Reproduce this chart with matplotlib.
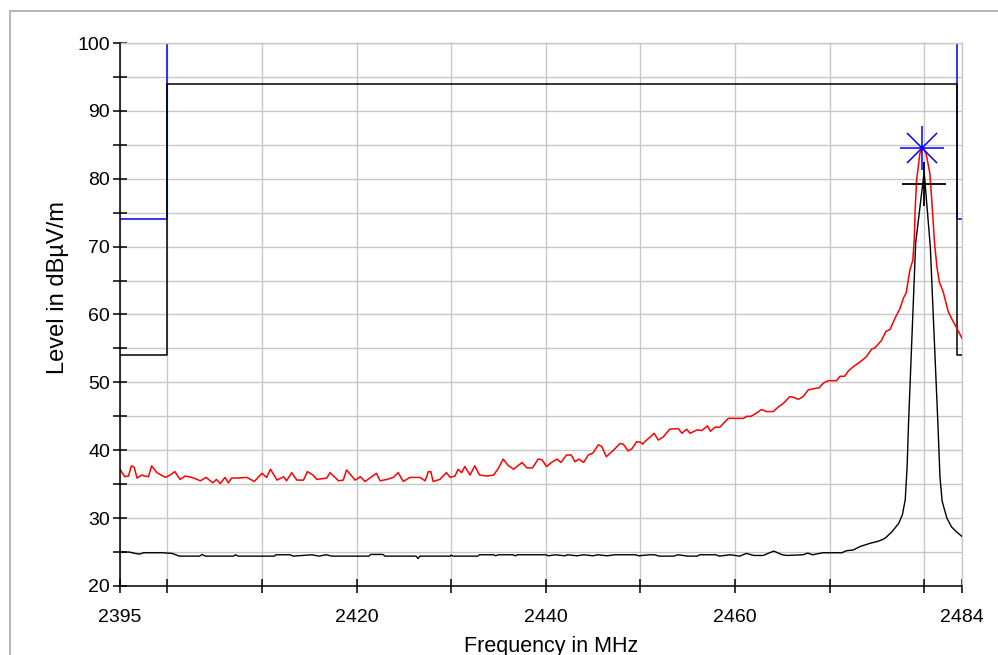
import matplotlib
matplotlib.use("Agg")
import matplotlib.pyplot as plt
from matplotlib.patches import Rectangle

plt.rcParams["font.family"] = ["Liberation Sans", "DejaVu Sans"]

# Peak detector trace (MHz, dBµV/m)
peak_freq = [
    2395.0, 2395.5, 2395.9, 2396.2, 2396.5, 2396.8, 2397.3, 2397.6, 2398.0, 2398.35,
    2398.9, 2399.8, 2400.3, 2400.8, 2401.1, 2401.35, 2401.9, 2402.6, 2403.5, 2404.1,
    2404.8, 2405.2, 2405.6, 2406.1, 2406.45, 2406.8, 2407.3, 2408.4, 2409.2, 2410.0,
    2410.5, 2410.9, 2411.6, 2412.3, 2412.6, 2413.15, 2413.7, 2414.4, 2414.8, 2415.4,
    2415.8, 2416.85, 2417.2, 2418.1, 2418.6, 2418.95, 2419.85, 2420.4, 2420.9, 2421.4,
    2422.1, 2422.5, 2423.2, 2423.9, 2424.4, 2424.95, 2425.65, 2426.7, 2427.25, 2427.6,
    2427.85, 2428.1, 2428.8, 2429.5, 2429.9, 2430.4, 2430.75, 2431.1, 2431.45, 2432.0,
    2432.5, 2433.0, 2433.8, 2434.5, 2435.0, 2435.5, 2436.0, 2436.6, 2437.5, 2438.0,
    2438.6, 2439.2, 2439.6, 2440.1, 2440.6, 2441.2, 2441.6, 2442.2, 2442.7, 2443.1,
    2443.5, 2444.0, 2444.5, 2445.0, 2445.55, 2445.9, 2446.4, 2447.15, 2447.85, 2448.2,
    2448.7, 2449.1, 2449.6, 2450.0, 2450.25, 2450.5, 2451.0, 2451.45, 2451.9, 2452.45,
    2453.1, 2454.0, 2454.4, 2454.9, 2455.25, 2456.0, 2456.5, 2457.1, 2457.4, 2457.9,
    2458.4, 2459.3, 2460.9, 2461.25, 2461.7, 2462.3, 2462.8, 2463.35, 2464.05, 2464.6,
    2465.1, 2465.8, 2466.2, 2466.7, 2467.2, 2467.75, 2468.45, 2468.9, 2469.35, 2469.9,
    2470.75, 2471.1, 2471.6, 2472.0, 2472.5, 2473.2, 2473.4, 2473.9, 2474.45, 2474.8,
    2475.5, 2475.95, 2476.4, 2476.9, 2477.45, 2477.8, 2478.1, 2478.5, 2478.8, 2478.95,
    2479.05, 2479.2, 2479.55, 2479.85, 2480.2, 2480.6, 2480.8, 2481.1, 2481.35, 2481.6,
    2482.0, 2482.55, 2482.9, 2483.4, 2484.0,
]
peak_level = [
    37.2, 36.1, 36.2, 37.7, 37.5, 35.9, 36.35, 36.2, 36.1, 37.7,
    36.7, 36.0, 36.35, 36.85, 36.2, 35.7, 36.2, 36.0, 35.5, 36.0,
    35.2, 35.7, 35.1, 36.0, 35.2, 35.9, 35.9, 36.0, 35.4, 36.6,
    36.0, 37.2, 35.6, 36.1, 35.5, 36.7, 35.6, 35.6, 36.85, 36.35,
    35.7, 35.9, 36.7, 35.5, 35.6, 37.1, 35.6, 36.1, 35.4, 35.9,
    36.6, 35.5, 35.7, 36.0, 36.7, 35.4, 36.0, 36.0, 35.5, 36.85,
    36.85, 35.4, 35.7, 36.7, 36.0, 36.2, 37.2, 36.7, 37.6, 36.35,
    37.7, 36.35, 36.2, 36.35, 37.35, 38.7, 37.8, 37.2, 38.2, 37.4,
    37.4, 38.7, 38.6, 37.6, 38.2, 38.7, 38.2, 39.3, 39.3, 38.3,
    38.7, 38.2, 39.3, 39.6, 40.8, 40.6, 39.05, 40.0, 41.0, 40.9,
    39.9, 40.2, 41.25, 41.2, 40.9, 41.3, 41.9, 42.5, 41.5, 42.0,
    43.1, 43.2, 42.5, 43.1, 42.5, 43.0, 42.9, 43.6, 42.8, 43.4,
    43.4, 44.7, 44.7, 45.0, 45.0, 45.5, 46.0, 45.7, 45.7, 46.4,
    46.9, 47.9, 47.8, 47.5, 47.9, 48.9, 49.1, 49.2, 49.9, 50.25,
    50.25, 50.9, 50.9, 51.7, 52.3, 53.0, 53.2, 53.8, 54.9, 55.1,
    56.2, 57.5, 57.8, 59.4, 60.9, 62.4, 63.2, 66.6, 68.0, 71.0,
    75.5, 79.8, 83.75, 84.7, 83.75, 80.8, 76.9, 70.5, 67.0, 64.8,
    63.4, 60.4, 59.4, 58.1, 56.5,
]

# Average detector trace (MHz, dBµV/m)
avg_freq = [
    2395.0, 2396.0, 2396.6, 2397.1, 2397.5, 2398.5, 2399.5, 2400.5, 2401.3, 2403.4,
    2403.7, 2404.0, 2407.0, 2407.2, 2407.5, 2411.3, 2411.5, 2413.0, 2413.3, 2415.3,
    2416.0, 2416.8, 2417.4, 2421.3, 2421.5, 2422.8, 2423.0, 2426.3, 2426.5, 2426.7,
    2429.9, 2430.0, 2430.2, 2432.8, 2433.0, 2434.5, 2434.7, 2435.0, 2436.5, 2436.8,
    2437.0, 2440.0, 2440.3, 2441.0, 2442.0, 2442.3, 2443.3, 2444.0, 2445.0, 2445.5,
    2446.5, 2447.3, 2449.5, 2449.8, 2451.0, 2451.5, 2452.0, 2453.5, 2454.0, 2455.0,
    2456.0, 2456.3, 2458.0, 2458.3, 2459.5, 2460.5, 2461.2, 2462.0, 2463.0, 2464.1,
    2465.0, 2465.5, 2467.2, 2467.7, 2468.2, 2469.3, 2471.3, 2471.8, 2472.5, 2473.2,
    2474.3, 2475.15, 2475.7, 2476.0, 2476.6, 2477.3, 2477.7, 2478.0, 2478.2, 2478.35,
    2479.1, 2480.0, 2480.65, 2481.45, 2481.67, 2481.9, 2482.4, 2482.9, 2483.4, 2484.0,
]
avg_level = [
    25.0, 25.0, 24.8, 24.7, 24.9, 24.9, 24.9, 24.8, 24.4, 24.4,
    24.65, 24.4, 24.4, 24.6, 24.4, 24.4, 24.6, 24.6, 24.4, 24.6,
    24.4, 24.6, 24.4, 24.4, 24.65, 24.65, 24.4, 24.4, 24.05, 24.4,
    24.4, 24.55, 24.4, 24.4, 24.6, 24.6, 24.45, 24.6, 24.6, 24.45,
    24.6, 24.6, 24.45, 24.6, 24.45, 24.6, 24.45, 24.6, 24.45, 24.6,
    24.45, 24.6, 24.6, 24.45, 24.6, 24.6, 24.4, 24.4, 24.6, 24.4,
    24.4, 24.6, 24.6, 24.4, 24.6, 24.4, 24.8, 24.5, 24.5, 25.15,
    24.6, 24.5, 24.6, 24.85, 24.6, 24.9, 24.9, 25.2, 25.3, 25.8,
    26.3, 26.6, 26.9, 27.2, 28.0, 29.2, 30.5, 32.7, 37.6, 44.0,
    70.5, 81.0, 70.0, 44.0, 36.1, 32.5, 30.0, 28.7, 28.0, 27.3,
]

# Limit lines: restricted band outside 2400 - 2483.5 MHz
limit_freq = [2395.0, 2400.0, 2400.0, 2483.5, 2483.5, 2484.0]
peak_limit = [74.0, 74.0, 114.0, 114.0, 74.0, 74.0]
avg_limit = [54.0, 54.0, 94.0, 94.0, 54.0, 54.0]

# Final measurement markers
peak_marker = (2479.8, 84.5)
avg_marker = (2480.0, 79.2)

x_ticks = [2395, 2400, 2410, 2420, 2430, 2440, 2450, 2460, 2470, 2480, 2484]
x_labeled = [2395, 2420, 2440, 2460, 2484]
y_major = list(range(20, 101, 10))
y_minor = list(range(25, 100, 10))

W, H = 998, 655
GRID = "#c8c8c8"


def main() -> None:
    fig = plt.figure(figsize=(W / 100, H / 100), dpi=100)
    ax = fig.add_axes([120 / W, 1 - 586 / H, 842 / W, 543 / H])

    # light frame around the whole chart
    fig.add_artist(Rectangle((10 / W, -0.1), 1.2, 1.1 - 11 / H,
                             transform=fig.transFigure, fill=False,
                             edgecolor="#b4b4b4", linewidth=1.4))

    ax.plot(limit_freq, peak_limit, color="#0000ff", lw=1.1, zorder=2)
    ax.plot(limit_freq, avg_limit, color="black", lw=1.1, zorder=3)
    ax.plot(peak_freq, peak_level, color="#ff0000", lw=1.1, zorder=4)
    ax.plot(avg_freq, avg_level, color="black", lw=1.0, zorder=5)

    ax.plot(*peak_marker, marker="+", ms=32, mew=1.1, color="#0000ff", zorder=6)
    ax.plot(*peak_marker, marker="x", ms=22, mew=1.1, color="#0000ff", zorder=6)
    ax.plot(*avg_marker, marker="+", ms=32, mew=1.3, color="black", zorder=6)

    ax.set_xlim(2395, 2484)
    ax.set_ylim(20, 100)

    ax.set_xticks(x_ticks)
    ax.set_xticklabels([str(t) if t in x_labeled else "" for t in x_ticks])
    ax.set_yticks(y_major)
    ax.set_yticks(y_minor, minor=True)

    ax.tick_params(axis="both", which="both", direction="inout", length=10,
                   width=1.1, color="black", labelsize=14)
    ax.tick_params(axis="x", pad=11.5)
    ax.tick_params(axis="y", pad=2.2)

    ax.set_axisbelow(True)
    ax.grid(True, which="both", color=GRID, lw=1.0)

    for side in ("left", "bottom"):
        ax.spines[side].set_color("black")
        ax.spines[side].set_linewidth(1.1)
        ax.spines[side].set_zorder(7)
    for side in ("top", "right"):
        ax.spines[side].set_color(GRID)
        ax.spines[side].set_linewidth(1.0)

    fig.text(58 / W, 1 - 288 / H, "Level in dBµV/m", rotation=90,
             ha="center", va="center", fontsize=17)
    fig.text(551 / W, 1 - 652 / H, "Frequency in MHz",
             ha="center", va="baseline", fontsize=15.5)

    fig.savefig("out.png", dpi=100)


if __name__ == "__main__":
    main()
